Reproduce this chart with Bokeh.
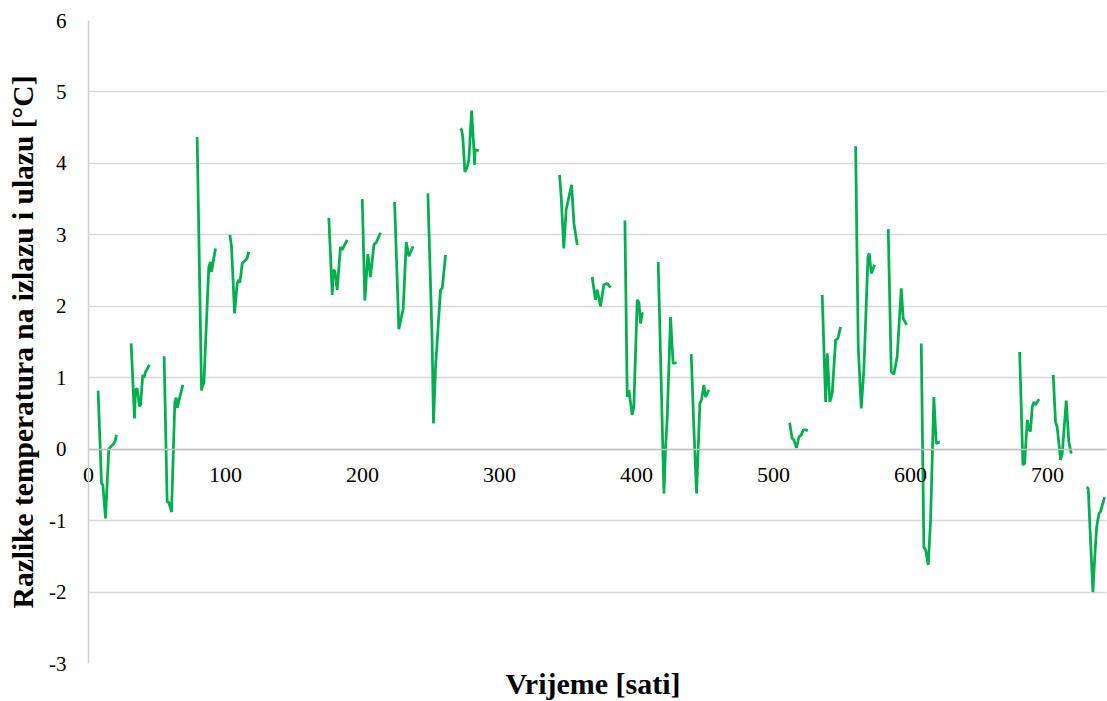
from bokeh.plotting import figure
from bokeh.embed import file_html
from bokeh.resources import INLINE
from bokeh.models import FixedTicker, Title, ColumnDataSource, PrintfTickFormatter, Span, BoxAnnotation

# Hours (x) and temperature differences (y), one list per continuous measurement run
seg_hours = [
    [7, 9.5, 10.5, 12.4, 14.8, 16, 18.5, 19.5, 20.4],
    [31.1, 33.6, 34.3, 35.5, 37.2, 38, 39.6, 40.6, 41.6, 44.5],
    [55.2, 57.4, 58.6, 60.6, 63, 64, 64.9, 66.4, 68.9],
    [79.3, 82.5, 83.3, 84.2, 87.8, 89, 89.8, 90.8, 92.7],
    [103.2, 104.4, 106.6, 108.5, 109.7, 110.5, 112.2, 114.6, 115.5, 117],
    [175.4, 177.9, 178.6, 179.8, 181.5, 183.9, 185.1, 188.8],
    [199.8, 201.7, 203.9, 205.8, 208.3, 210.2, 213.1],
    [223.4, 226.5, 229.7, 231.9, 233.8, 236.9],
    [247.7, 250.8, 251.8, 253.3, 256.9, 258.2, 260.6],
    [271.5, 272.3, 273.2, 274.7, 276.4, 277.6, 279.6, 281.3, 281.8, 282.2, 284.9],
    [343.8, 345, 346.9, 348.6, 350.6, 352.6, 354.3, 356.7],
    [367.6, 370, 371.3, 373.7, 376.1, 378.6, 381],
    [391.5, 393.2, 394.4, 396.8, 398, 400.5, 401.7, 402.9, 404.2, 405],
    [415.8, 420, 421.2, 422.4, 424.8, 426, 426.7, 429.2],
    [439.9, 441.8, 443.8, 446.2, 447.4, 449.1, 450.4, 452.8],
    [511.7, 513.6, 514.8, 516.8, 518.5, 520.2, 521.7, 523.4, 525],
    [535.5, 538, 539.2, 541.1, 542.8, 545.3, 547, 548.9],
    [559.9, 561.8, 564, 565.9, 568.9, 569.8, 571.3, 573.7],
    [583.7, 585.9, 587.8, 590.2, 593.2, 594.6, 597.1],
    [607.8, 609.7, 611, 612.9, 614.6, 617, 618.7, 621.4],
    [679.6, 682, 683.2, 685.2, 686.4, 687.5, 688.8, 690, 691.2, 693.7],
    [704.1, 705.8, 707, 709.5, 710.7, 713.6, 715.5, 717.3],
    [728.5, 729.7, 730.9, 733.1, 734.3, 735.8, 737.5, 738.7, 741.6],
]
seg_values = [
    [0.82, -0.48, -0.5, -0.97, 0.0, 0.03, 0.08, 0.12, 0.2],
    [1.48, 0.43, 0.83, 0.85, 0.6, 0.62, 1.04, 1.0, 1.08, 1.18],
    [1.3, -0.74, -0.74, -0.88, 0.66, 0.72, 0.58, 0.71, 0.9],
    [4.37, 0.82, 0.9, 0.92, 2.55, 2.62, 2.48, 2.6, 2.81],
    [3.0, 2.83, 1.9, 2.32, 2.37, 2.33, 2.6, 2.65, 2.66, 2.76],
    [3.24, 2.16, 2.5, 2.5, 2.23, 2.83, 2.79, 2.93],
    [3.5, 2.08, 2.73, 2.41, 2.86, 2.9, 3.03],
    [3.46, 1.68, 1.97, 2.9, 2.7, 2.84],
    [3.58, 1.53, 0.36, 1.15, 2.23, 2.25, 2.72],
    [4.49, 4.47, 4.37, 3.88, 3.95, 4.05, 4.74, 4.19, 3.98, 4.19, 4.18],
    [3.84, 3.53, 2.81, 3.35, 3.53, 3.7, 3.16, 2.86],
    [2.41, 2.09, 2.23, 2.0, 2.3, 2.32, 2.26],
    [3.2, 0.73, 0.83, 0.48, 0.59, 2.09, 2.06, 1.76, 1.9, 1.9],
    [2.62, -0.62, 0.03, 0.45, 1.85, 1.43, 1.2, 1.21],
    [1.33, 0.31, -0.62, 0.64, 0.69, 0.9, 0.73, 0.83],
    [0.37, 0.15, 0.13, 0.02, 0.17, 0.2, 0.27, 0.27, 0.26],
    [2.16, 0.66, 1.34, 0.66, 0.78, 1.53, 1.55, 1.71],
    [4.24, 1.43, 0.57, 1.11, 2.69, 2.74, 2.46, 2.58],
    [3.08, 1.08, 1.05, 1.29, 2.25, 1.83, 1.74],
    [1.48, -1.37, -1.41, -1.62, -0.99, 0.73, 0.08, 0.1],
    [1.36, -0.22, -0.2, 0.41, 0.27, 0.25, 0.59, 0.66, 0.62, 0.7],
    [1.04, 0.38, 0.31, -0.15, -0.06, 0.68, 0.1, -0.06],
    [-0.53, -0.55, -1.09, -2.0, -1.55, -1.09, -0.9, -0.87, -0.67],
]
x_ticks = [0, 100, 200, 300, 400, 500, 600, 700]
y_ticks = [-3, -2, -1, 0, 1, 2, 3, 4, 5, 6]
x_title = "Vrijeme [sati]"
y_title = "Razlike temperatura na izlazu i ulazu [°C]"

FONT = "Liberation Serif"
X_START, X_END = -6.57, 743

p = figure(width=1107, height=701, x_range=(X_START, X_END), y_range=(-3, 6),
           output_backend="svg", toolbar_location=None,
           min_border_left=79, min_border_right=1, min_border_top=20,
           min_border_bottom=38)
p.outline_line_color = None
p.background_fill_color = "white"
p.border_fill_color = "white"

# grid
p.xgrid.grid_line_color = None
p.ygrid.grid_line_color = "#d9d9d9"
p.ygrid.grid_line_width = 1.5
p.ygrid.ticker = FixedTicker(ticks=y_ticks)

# hide grid left of the vertical axis
p.add_layout(BoxAnnotation(left=X_START, right=0, fill_color="white", fill_alpha=1.0,
                           line_color=None, level="underlay"))
# vertical axis line at x = 0
p.add_layout(Span(location=0, dimension="height", line_color="#d0d0d0", line_width=1.5))

src = ColumnDataSource(dict(xs=seg_hours, ys=seg_values))
p.multi_line(xs="xs", ys="ys", source=src, line_color="#00B050", line_width=2.75)

# y axis
p.yaxis.ticker = FixedTicker(ticks=y_ticks)
p.yaxis.formatter = PrintfTickFormatter(format="%d")
p.yaxis.axis_line_color = None
p.yaxis.major_tick_line_color = None
p.yaxis.minor_tick_line_color = None
p.yaxis.major_tick_out = 0
p.yaxis.major_label_standoff = 13
p.yaxis.major_label_text_font = FONT
p.yaxis.major_label_text_font_size = "21px"
p.yaxis.major_label_text_color = "black"
p.yaxis.axis_label = y_title
p.yaxis.axis_label_text_font = FONT
p.yaxis.axis_label_text_font_style = "bold"
p.yaxis.axis_label_text_font_size = "29.5px"
p.yaxis.axis_label_text_color = "black"
p.yaxis.axis_label_standoff = 7

# x axis at y = 0
p.xaxis.fixed_location = 0
p.xaxis.bounds = (0, X_END)
p.xaxis.ticker = FixedTicker(ticks=x_ticks)
p.xaxis.formatter = PrintfTickFormatter(format="%d")
p.xaxis.axis_line_color = "#bfbfbf"
p.xaxis.axis_line_width = 1.5
p.xaxis.major_tick_line_color = None
p.xaxis.minor_tick_line_color = None
p.xaxis.major_tick_out = 0
p.xaxis.major_label_standoff = 19
p.xaxis.major_label_text_font = FONT
p.xaxis.major_label_text_font_size = "22px"
p.xaxis.major_label_text_color = "black"

p.add_layout(Title(text=x_title, align="center", text_font=FONT,
                   text_font_size="30px", text_font_style="bold",
                   text_color="black", standoff=2, offset=0), "below")

open("out.html", "w").write(file_html(p, INLINE))
